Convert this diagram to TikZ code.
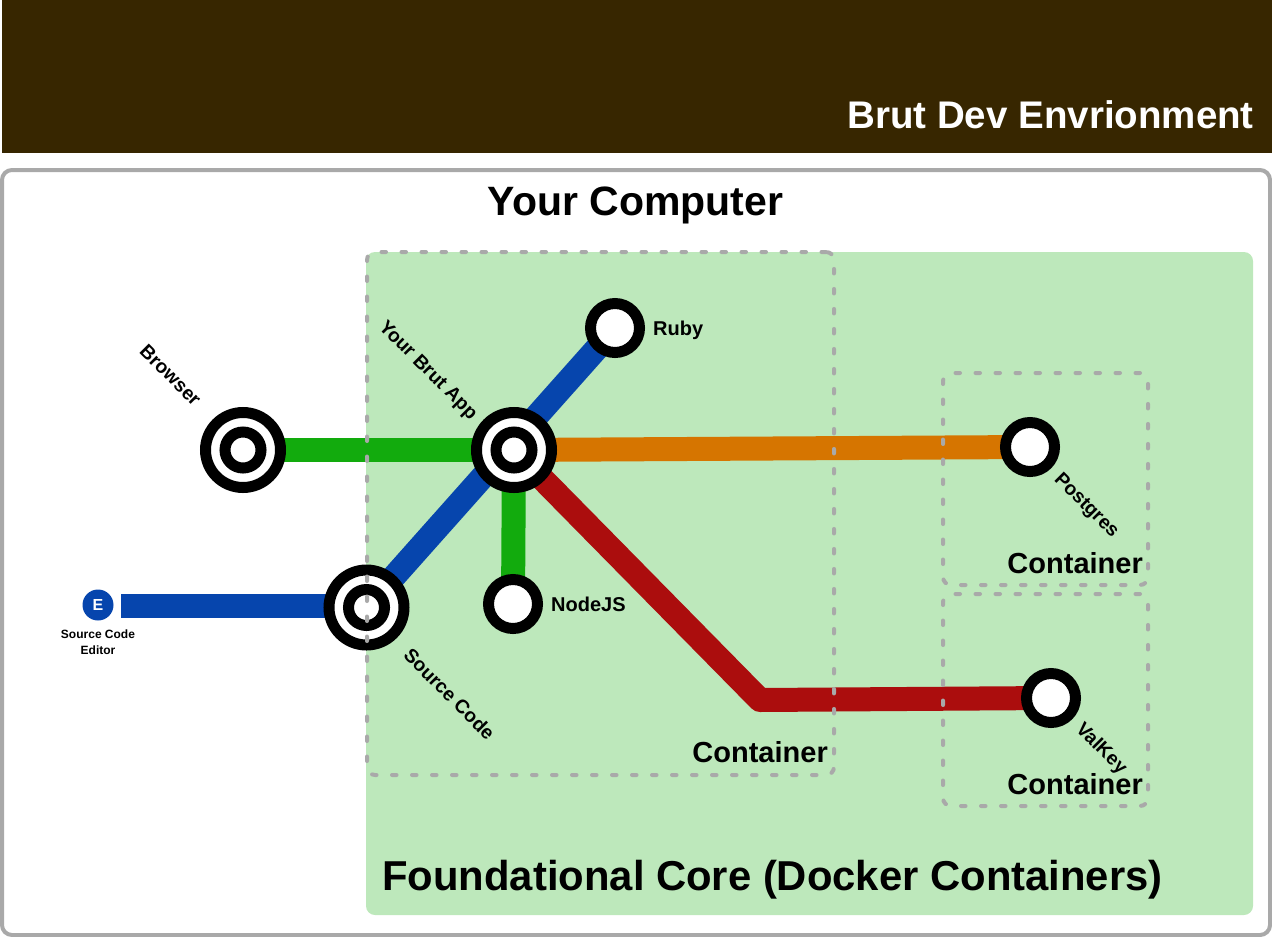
\documentclass[tikz,border=0pt]{standalone}
\usepackage{fontspec}
\setmainfont{Liberation Sans}
\definecolor{headerbrown}{HTML}{372600}
\definecolor{coregreen}{HTML}{BDE8BB}
\definecolor{linegreen}{HTML}{12AB0D}
\definecolor{lineblue}{HTML}{0645AD}
\definecolor{lineorange}{HTML}{D67500}
\definecolor{linered}{HTML}{AB0D0D}
\definecolor{boxgray}{HTML}{A9A9A9}
\pgfdeclarelayer{lines}
\pgfsetlayers{lines,main}
\tikzset{
  stop/.style={circle,draw=black,fill=white,line width=11pt,minimum size=49pt,inner sep=0pt},
  hubring/.style={circle,draw=black,fill=white,line width=11pt,minimum size=75pt,inner sep=0pt},
  hubcore/.style={circle,draw=black,fill=white,line width=11pt,minimum size=36pt,inner sep=0pt},
  metro/.style={line width=24pt,line join=round},
  containerbox/.style={draw=boxgray,line width=4pt,line cap=round,dash pattern=on 4.5pt off 15.5pt,rounded corners=8pt,outer sep=0pt},
  stoplabel/.style={font=\bfseries\fontsize{20}{22}\selectfont,inner sep=0pt},
  slantlabel/.style={stoplabel,font=\bfseries\fontsize{19.3}{22}\selectfont,rotate=-45},
  boxlabel/.style={font=\bfseries\fontsize{29}{31}\selectfont,inner sep=0pt,anchor=base east},
}
\newcommand{\Hub}[2]{
  \node[hubring] (#1) at #2 {};
  \node[hubcore] (#1core) at #2 {};
}

\begin{document}
\begin{tikzpicture}[x=1pt,y=-1pt]
  \useasboundingbox (0,0) rectangle (1272,937);
  \begin{pgfonlayer}{lines}
    \fill[headerbrown] (2,0) rectangle (1272,153);
    \draw[boxgray,line width=4pt,rounded corners=10pt] (2,170) rectangle (1270,935);
    \fill[coregreen,rounded corners=9pt] (366,252) rectangle (1253,915);
  \end{pgfonlayer}

  \node[font=\bfseries\fontsize{38.5}{40}\selectfont,text=white,inner sep=0pt,anchor=base east] (title) at (1254,128) {Brut Dev Envrionment};
  \node[font=\bfseries\fontsize{41}{45}\selectfont,inner sep=0pt,anchor=base] (computer) at (635.5,215) {Your Computer};
  \node[font=\bfseries\fontsize{41.8}{44}\selectfont,inner sep=0pt,anchor=base west] (core) at (382,890) {Foundational Core (Docker Containers)};

  \Hub{browser}{(243,450)}
  \Hub{app}{(514,450)}
  \Hub{source}{(366.5,607.5)}
  \node[stop] (ruby) at (615,328) {};
  \node[stop] (nodejs) at (513,604) {};
  \node[stop] (postgres) at (1030,447) {};
  \node[stop] (valkey) at (1051,698) {};
  \node[circle,fill=lineblue,text=white,minimum size=31pt,inner sep=0pt,font=\bfseries\fontsize{16}{16}\selectfont] (editor) at (98,605) {E};
  \coordinate (editorline) at (121,606);
  \coordinate (bend) at (760,700);

  \begin{pgfonlayer}{lines}
    \draw[metro,lineblue] (editorline) -- (editorline -| source.center);
    \draw[metro,lineblue] (source.center) -- (ruby.center);
    \draw[metro,lineorange] (app.center) -- (postgres.center);
    \draw[metro,linered] (app.center) -- (bend) -- (valkey.center);
    \draw[metro,linegreen] (browser.center) -- (app.center);
    \draw[metro,linegreen] (app.center) -- (nodejs.center);
  \end{pgfonlayer}

  \node[stoplabel,anchor=west] (rubytext) at (653,330) {Ruby};
  \node[stoplabel,anchor=west] (nodejstext) at (551,604) {NodeJS};
  \node[slantlabel] (browsertext) at (170.5,375) {Browser};
  \node[slantlabel] (apptext) at (427.5,371) {Your Brut App};
  \node[slantlabel] (sourcetext) at (449.5,694) {Source Code};
  \node[slantlabel] (postgrestext) at (1086,506) {Postgres};
  \node[slantlabel] (valkeytext) at (1101,749) {ValKey};
  \node[font=\bfseries\fontsize{12}{16}\selectfont,align=center,inner sep=0pt] (editortext) at (98,642) {Source Code\\Editor};

  \node[containerbox,minimum width=467pt,minimum height=523pt,anchor=north west] (appbox) at (367,252) {};
  \node[containerbox,minimum width=205pt,minimum height=212pt,anchor=north west] (postgresbox) at (943,373) {};
  \node[containerbox,minimum width=205pt,minimum height=212pt,anchor=north west] (valkeybox) at (943,594) {};
  \node[boxlabel] (appboxtext) at (828,762) {Container};
  \node[boxlabel] (postgresboxtext) at (1143,573) {Container};
  \node[boxlabel] (valkeyboxtext) at (1143,794) {Container};
\end{tikzpicture}
\end{document}
